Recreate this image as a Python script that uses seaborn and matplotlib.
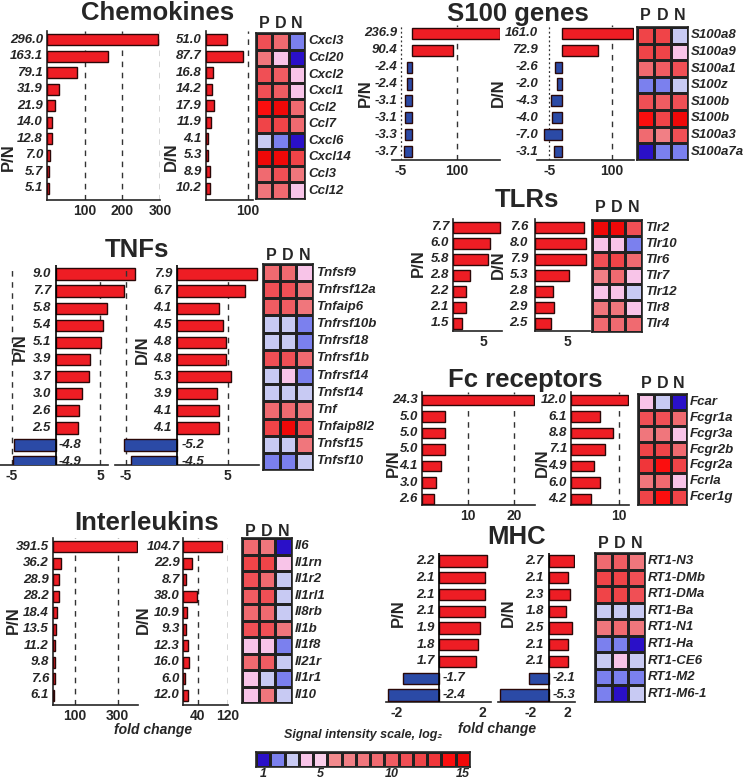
import numpy as np
import pandas as pd
import matplotlib
matplotlib.use("Agg")
import matplotlib.pyplot as plt
import matplotlib.transforms as mtransforms
from matplotlib.colors import ListedColormap
import seaborn as sns

# =========================
# Datos
# =========================

chemo_genes = ["Cxcl3", "Ccl20", "Cxcl2", "Cxcl1", "Ccl2", "Ccl7", "Cxcl6", "Cxcl14", "Ccl3", "Ccl12"]
chemo_pn = [296.0, 163.1, 79.1, 31.9, 21.9, 14.0, 12.8, 7.0, 5.7, 5.1]
chemo_dn = [51.0, 87.7, 16.8, 14.2, 17.9, 11.9, 4.1, 5.3, 8.9, 10.2]
chemo_heat = [[11, 9, 2], [8, 4, 1], [11, 10, 4], [11, 10, 4], [14, 15, 9],
              [12, 12, 9], [3, 2, 1], [15, 15, 12], [9, 11, 8], [8, 9, 4]]

s100_genes = ["S100a8", "S100a9", "S100a1", "S100z", "S100b", "S100b", "S100a3", "S100a7a"]
s100_pn = [236.9, 90.4, -2.4, -2.4, -3.1, -3.1, -3.3, -3.7]
s100_dn = [161.0, 72.9, -2.6, -2.0, -4.3, -4.0, -7.0, -3.1]
s100_heat = [[12, 12, 3], [12, 12, 4], [9, 10, 11], [2, 2, 3], [11, 10, 11],
             [14, 12, 15], [9, 7, 11], [1, 2, 2]]

tnf_genes = ["Tnfsf9", "Tnfrsf12a", "Tnfaip6", "Tnfrsf10b", "Tnfrsf18", "Tnfrsf1b",
             "Tnfrsf14", "Tnfsf14", "Tnf", "Tnfaip8l2", "Tnfsf15", "Tnfsf10"]
tnf_pn = [9.0, 7.7, 5.8, 5.4, 5.1, 3.9, 3.7, 3.0, 2.6, 2.5, -4.8, -4.9]
tnf_dn = [7.9, 6.7, 4.1, 4.5, 4.8, 4.8, 5.3, 3.9, 4.1, 4.1, -5.2, -4.5]
tnf_heat = [[9, 9, 4], [11, 11, 8], [10, 10, 8], [3, 3, 2], [3, 3, 2], [11, 11, 9],
            [3, 4, 2], [3, 3, 3], [9, 9, 8], [12, 15, 11], [3, 3, 8], [2, 2, 3]]

tlr_genes = ["Tlr2", "Tlr10", "Tlr6", "Tlr7", "Tlr12", "Tlr8", "Tlr4"]
tlr_pn = [7.7, 6.0, 5.8, 2.8, 2.2, 2.1, 1.5]
tlr_dn = [7.6, 8.0, 7.9, 5.3, 2.8, 2.9, 2.5]
tlr_heat = [[15, 15, 11], [4, 4, 2], [11, 12, 9], [7, 9, 4], [4, 4, 3], [8, 8, 4], [9, 9, 9]]

fc_genes = ["Fcar", "Fcgr1a", "Fcgr3a", "Fcgr2b", "Fcgr2a", "Fcrla", "Fcer1g"]
fc_pn = [24.3, 5.0, 5.0, 5.0, 4.1, 3.0, 2.6]
fc_dn = [12.0, 6.1, 8.8, 7.1, 4.9, 6.0, 4.2]
fc_heat = [[4, 3, 1], [11, 11, 9], [8, 8, 4], [12, 12, 9], [13, 14, 12], [8, 9, 4], [12, 14, 12]]

il_genes = ["Il6", "Il1rn", "Il1r2", "Il1rl1", "Il8rb", "Il1b", "Il1f8", "Il21r", "Il1r1", "Il10"]
il_pn = [391.5, 36.2, 28.9, 28.2, 18.4, 13.5, 11.2, 9.8, 7.6, 6.1]
il_dn = [104.7, 22.9, 8.7, 38.0, 10.9, 9.3, 12.3, 16.0, 6.0, 12.0]
il_heat = [[9, 8, 1], [12, 12, 4], [11, 9, 3], [10, 11, 3], [9, 9, 3],
           [11, 11, 8], [4, 4, 2], [9, 10, 3], [4, 3, 2], [4, 8, 3]]

mhc_genes = ["RT1-N3", "RT1-DMb", "RT1-DMa", "RT1-Ba", "RT1-N1", "RT1-Ha", "RT1-CE6", "RT1-M2", "RT1-M6-1"]
mhc_pn = [2.2, 2.1, 2.1, 2.1, 1.9, 1.8, 1.7, -1.7, -2.4]
mhc_dn = [2.7, 2.1, 2.3, 1.8, 2.5, 2.1, 2.1, -2.1, -5.3]
mhc_heat = [[9, 10, 8], [12, 12, 11], [12, 12, 11], [3, 3, 3], [8, 9, 8],
            [2, 2, 1], [3, 4, 3], [2, 2, 2], [2, 1, 3]]

scale_levels = list(range(1, 16))
scale_ticks = [1, 5, 10, 15]

# =========================
# Estilo
# =========================

sns.set_style("white")
plt.rcParams["font.family"] = ["Liberation Sans", "DejaVu Sans"]

W, H = 745, 780
RED, BLUE = "#ee1d24", "#2b4aa6"
EDGE = "#2a0808"
CMAP = ListedColormap([
    "#2a10c8", "#7b80ee", "#c8caf3", "#f8c4e8", "#fbcfeb",
    "#f28a8d", "#f17f85", "#f0767c", "#f06a70", "#f05c62",
    "#f04f55", "#f04448", "#f0363a", "#fb0e0e", "#f00808",
])

fig = plt.figure(figsize=(W / 100, H / 100), dpi=100)


def px_axes(x0, y0, x1, y1):
    ax = fig.add_axes([x0 / W, 1 - y1 / H, (x1 - x0) / W, (y1 - y0) / H])
    ax.set_facecolor("none")
    return ax


def ftext(x, y, s, **kw):
    fig.text(x / W, 1 - y / H, s, **kw)


def bar_panel(vals, x0, x1, xlim, y_first, step, y_axis, ticks, lab_pos,
              lab_neg=None, grid=(), dotted=(), zero_line=False, scale=None,
              bounds=None):
    n = len(vals)
    ax = px_axes(x0, y_first - step / 2, x1, y_axis)
    df = pd.DataFrame({
        "row": [str(i) for i in range(n)],
        "fc": vals,
        "sign": ["up" if v > 0 else "down" for v in vals],
    })
    sns.barplot(data=df, x="fc", y="row", hue="sign", orient="h", dodge=False,
                palette={"up": RED, "down": BLUE}, width=0.66, saturation=1,
                edgecolor=EDGE, linewidth=1, errorbar=None, legend=False,
                ax=ax, zorder=3)
    if scale is not None:
        ax.set_xscale("function", functions=scale)
    ax.set_xlim(*xlim)
    ax.set_ylim((y_axis - y_first) / step, -0.5)
    ax.set_yticks([])
    ax.set_xlabel("")
    ax.set_ylabel("")
    for g in grid:
        ax.axvline(g, color="#333333", lw=1, ls=(0, (4, 4)), zorder=1)
    for g in dotted:
        ax.axvline(g, color="#333333", lw=0.9, ls=(0, (1.5, 2)), zorder=1)
    sns.despine(ax=ax, left=zero_line or scale is not None)
    if zero_line:
        ax.axvline(0, color="black", lw=1.2, zorder=4)
    ax.spines["bottom"].set_linewidth(1.2)
    ax.spines["left"].set_linewidth(1.2)
    if bounds is not None:
        ax.spines["bottom"].set_bounds(*bounds)
    ax.set_xticks(ticks)
    ax.set_xticklabels([str(t) for t in ticks], fontsize=10, fontweight="bold")
    ax.tick_params(axis="x", length=2, width=1, pad=1)
    trans = mtransforms.blended_transform_factory(fig.transFigure, ax.transData)
    for i, v in enumerate(vals):
        if v < 0 and lab_neg is not None:
            ax.text(lab_neg / W, i, f"{v:.1f}", transform=trans, ha="left", va="center",
                    fontsize=9.5, fontweight="bold", style="italic", clip_on=False)
        else:
            ax.text(lab_pos / W, i, f"{v:.1f}", transform=trans, ha="right", va="center",
                    fontsize=9.5, fontweight="bold", style="italic", clip_on=False)
    return ax


def heat_panel(data, genes, x0, y0, x1, y1, hdr_y):
    ax = px_axes(x0, y0, x1, y1)
    sns.heatmap(np.array(data), cmap=CMAP, vmin=0.5, vmax=15.5, cbar=False,
                linewidths=1, linecolor="#222222", xticklabels=False,
                yticklabels=False, ax=ax)
    for s in ax.spines.values():
        s.set_visible(True)
        s.set_linewidth(1.2)
        s.set_color("#222222")
    for j, c in enumerate("PDN"):
        ftext(x0 + (j + 0.5) * (x1 - x0) / 3, hdr_y, c, ha="center", va="center",
              fontsize=11.5, fontweight="bold")
    trans = mtransforms.blended_transform_factory(fig.transFigure, ax.transData)
    for i, g in enumerate(genes):
        ax.text((x1 + 3) / W, i + 0.5, g, transform=trans, ha="left", va="center",
                fontsize=9.5, fontweight="bold", style="italic", clip_on=False)
    return ax


def title(x, y, s):
    ftext(x, y, s, ha="center", va="center", fontsize=18.5, fontweight="bold")


def ylab(x, y, s):
    ftext(x, y, s, ha="center", va="center", rotation=90, fontsize=12, fontweight="bold")


# escala rota para S100 (negativos ampliados, >100 comprimido)
def s100_fwd(x):
    x = np.asarray(x, dtype=float)
    return np.where(x < 0, 5 * x, np.where(x <= 100, x, 100 + 0.7 * (x - 100)))


def s100_inv(y):
    y = np.asarray(y, dtype=float)
    return np.where(y < 0, y / 5, np.where(y <= 100, y, 100 + (y - 100) / 0.7))


# =========================
# Chemokines
# =========================
title(158, 13, "Chemokines")
bar_panel(chemo_pn, 47, 160, (0, 300), 39.7, 16.5, 200, [100, 200, 300], 43,
          grid=[100, 200, 300])
bar_panel(chemo_dn, 206, 253, (0, 112), 39.7, 16.5, 200, [100], 202, grid=[100])
heat_panel(chemo_heat, chemo_genes, 256, 33, 305, 199, 23)
ylab(8, 157, "P/N")
ylab(171, 157, "D/N")

# =========================
# S100 genes
# =========================
title(518, 14, "S100 genes")
bar_panel(s100_pn, 392, 500, (-8.9, 237.5), 33.3, 16.9, 160, [-5, 100], 397.5,
          grid=[100], dotted=[-5], scale=(s100_fwd, s100_inv))
bar_panel(s100_dn, 537, 634, (-10, 163), 33.3, 16.9, 160, [-5, 100], 538,
          grid=[100], dotted=[-5], scale=(s100_fwd, s100_inv))
heat_panel(s100_heat, s100_genes, 637, 27, 688, 160, 16)
ylab(365, 93, "P/N")
ylab(498, 93, "D/N")

# =========================
# TNFs
# =========================
title(137, 250, "TNFs")
bar_panel(tnf_pn, 0, 140, (-6.36, 9.55), 274, 17.1, 465, [-5, 5], 51, lab_neg=59,
          grid=[-5, 5], zero_line=True, bounds=(-6.36, 5.9))
bar_panel(tnf_dn, 115, 259, (-6.08, 8.05), 274, 17.1, 465, [-5, 5], 172, lab_neg=182,
          grid=[-5, 5], zero_line=True)
heat_panel(tnf_heat, tnf_genes, 263, 264, 313, 470, 255)
ylab(20, 347, "P/N")
ylab(142, 350, "D/N")

# =========================
# TLRs
# =========================
title(527, 200, "TLRs")
bar_panel(tlr_pn, 453, 502, (0, 8.05), 227.3, 16, 331, [5], 449)
bar_panel(tlr_dn, 535, 590, (0, 8.6), 227.3, 16, 331, [5], 528)
heat_panel(tlr_heat, tlr_genes, 592, 220, 642, 332, 208)
ylab(418, 263, "P/N")
ylab(498, 265, "D/N")

# =========================
# Fc receptors
# =========================
title(525, 380, "Fc receptors")
bar_panel(fc_pn, 422, 535, (0, 24.5), 400, 16.5, 505, [10, 20], 418, grid=[10, 20])
bar_panel(fc_dn, 571, 629, (0, 12.2), 400, 16.5, 505, [10], 567, grid=[10])
heat_panel(fc_heat, fc_genes, 638, 394, 687, 505, 383)
ylab(393, 463, "P/N")
ylab(542, 463, "D/N")

# =========================
# Interleukins
# =========================
title(147, 523, "Interleukins")
bar_panel(il_pn, 53, 138, (0, 395), 546.7, 16.5, 705, [100, 300], 49, grid=[100, 300])
bar_panel(il_dn, 183, 228, (0, 120), 546.7, 16.5, 705, [40, 120], 180, grid=[40, 120])
heat_panel(il_heat, il_genes, 242, 538, 292, 703, 532)
ylab(13, 620, "P/N")
ylab(143, 620, "D/N")
ftext(153, 730, "fold change", ha="center", va="center", fontsize=10,
      fontweight="bold", style="italic")

# =========================
# MHC
# =========================
title(517, 537, "MHC")
bar_panel(mhc_pn, 386, 491, (-2.47, 2.4), 561, 16.75, 702, [-2, 2], 435, lab_neg=443,
          zero_line=True)
bar_panel(mhc_dn, 498, 575, (-5.48, 2.8), 561, 16.75, 702, [-2, 2], 544, lab_neg=553,
          zero_line=True)
heat_panel(mhc_heat, mhc_genes, 595, 553, 645, 702, 543)
ylab(398, 613, "P/N")
ylab(508, 613, "D/N")
ftext(497, 729, "fold change", ha="center", va="center", fontsize=10,
      fontweight="bold", style="italic")

# =========================
# Escala de color
# =========================
cax = px_axes(256, 752, 470, 767)
sns.heatmap(np.array(scale_levels).reshape(1, -1), cmap=CMAP, vmin=0.5, vmax=15.5,
            cbar=False, linewidths=1, linecolor="#222222", xticklabels=False,
            yticklabels=False, ax=cax)
for s in cax.spines.values():
    s.set_visible(True)
    s.set_linewidth(1.2)
ftext(363, 735, "Signal intensity scale, log\u2082", ha="center", va="center",
      fontsize=9, fontweight="bold", style="italic")
for v in scale_ticks:
    ftext(256 + (v - 0.5) * 214 / 15, 774, str(v), ha="center", va="center",
          fontsize=9, fontweight="bold", style="italic")

fig.savefig("out.png", dpi=100)
